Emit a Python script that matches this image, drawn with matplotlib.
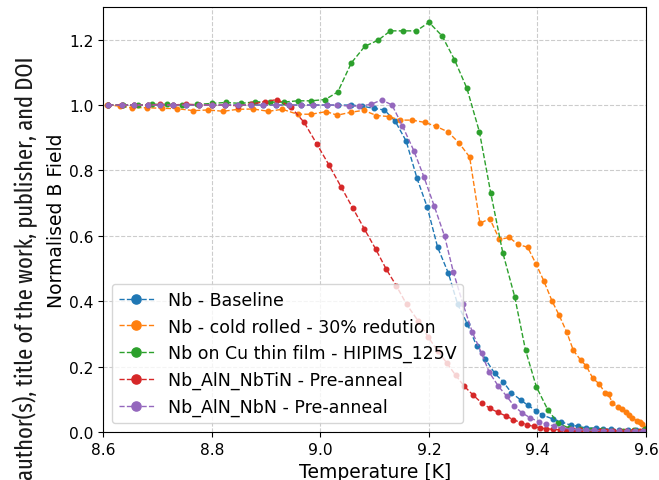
import matplotlib
matplotlib.use('Agg')
import matplotlib.pyplot as plt
from matplotlib import font_manager

# temperature [K] / normalised field for each sample
plateau_T = [8.609, 8.634, 8.656, 8.682, 8.704, 8.728, 8.752, 8.776, 8.800,
             8.824, 8.848, 8.873, 8.895, 8.919, 8.943, 8.965, 8.987, 9.013]

base_T = plateau_T + [9.032, 9.056, 9.076, 9.098, 9.118, 9.138, 9.158, 9.178,
                      9.197, 9.216, 9.236, 9.253, 9.271, 9.288, 9.304, 9.321,
                      9.337, 9.352, 9.369, 9.382, 9.398, 9.409, 9.428, 9.444,
                      9.461, 9.474, 9.490, 9.507, 9.521, 9.536, 9.551, 9.567,
                      9.582, 9.597]
base_B = [1.0] * 18 + [1.0, 1.0, 0.997, 0.99, 0.985, 0.95, 0.89, 0.776, 0.687,
                       0.565, 0.485, 0.39, 0.33, 0.263, 0.223, 0.18, 0.153,
                       0.12, 0.098, 0.082, 0.064, 0.052, 0.04, 0.031, 0.021,
                       0.018, 0.012, 0.012, 0.009, 0.009, 0.006, 0.006, 0.005,
                       0.005]

cold_T = [8.607, 8.63, 8.652, 8.680, 8.708, 8.736, 8.766, 8.793, 8.821, 8.848,
          8.876, 8.904, 8.930, 8.958, 8.983, 9.011, 9.031, 9.056, 9.080, 9.103,
          9.126, 9.147, 9.169, 9.192, 9.213, 9.235, 9.255, 9.275, 9.294, 9.312,
          9.330, 9.348, 9.364, 9.382, 9.397, 9.412, 9.427, 9.440, 9.454, 9.466,
          9.480, 9.490, 9.502, 9.514, 9.525, 9.531, 9.538, 9.548, 9.556, 9.563,
          9.569, 9.575, 9.583, 9.588, 9.592, 9.598]
cold_B = [1.0, 0.997, 0.992, 0.992, 0.99, 0.989, 0.983, 0.985, 0.981, 0.987,
          0.988, 0.981, 0.987, 0.972, 0.972, 0.98, 0.969, 0.978, 0.984, 0.968,
          0.965, 0.954, 0.954, 0.947, 0.935, 0.918, 0.885, 0.841, 0.638, 0.653,
          0.589, 0.595, 0.574, 0.565, 0.515, 0.461, 0.40, 0.357, 0.305, 0.25,
          0.219, 0.202, 0.164, 0.147, 0.118, 0.116, 0.088, 0.076, 0.071, 0.061,
          0.052, 0.044, 0.035, 0.031, 0.024, 0.013]

film_T = [8.609, 8.636, 8.663, 8.69, 8.717, 8.745, 8.772, 8.8, 8.826, 8.853,
          8.88, 8.907, 8.932, 8.958, 8.983, 9.009, 9.032, 9.057, 9.082, 9.106,
          9.129, 9.153, 9.177, 9.200, 9.224, 9.247, 9.270, 9.293, 9.314, 9.336,
          9.358, 9.378, 9.398, 9.419, 9.438, 9.458, 9.478, 9.498, 9.518, 9.538,
          9.558, 9.578, 9.598]
film_B = [1.0, 1.0, 1.0, 1.002, 1.002, 1.0, 1.002, 1.005, 1.008, 1.005,
          1.01, 1.009, 1.009, 1.013, 1.013, 1.017, 1.04, 1.129, 1.18, 1.198,
          1.227, 1.227, 1.227, 1.253, 1.212, 1.139, 1.051, 0.918, 0.73, 0.549,
          0.414, 0.25, 0.138, 0.068, 0.027, 0.012, 0.008, 0.006, 0.005, 0.004,
          0.004, 0.005, 0.01]

nbtin_T = [8.609, 8.634, 8.656, 8.682, 8.704, 8.728, 8.752, 8.776, 8.800,
           8.824, 8.848, 8.873, 8.897, 8.92, 8.945, 8.970, 8.993, 9.016, 9.038,
           9.060, 9.081, 9.102, 9.121, 9.140, 9.159, 9.180, 9.198, 9.216, 9.233,
           9.249, 9.265, 9.282, 9.297, 9.312, 9.327, 9.342, 9.355, 9.369, 9.381,
           9.393, 9.405, 9.416, 9.429, 9.441, 9.453, 9.466, 9.478, 9.49, 9.503,
           9.515, 9.527, 9.54, 9.552, 9.564, 9.576, 9.588, 9.6]
nbtin_B = [1.0, 1.0, 1.0, 1.0, 1.002, 1.0, 1.003, 1.0, 1.0, 1.0, 0.998,
           1.003, 1.01, 1.017, 0.995, 0.947, 0.882, 0.816, 0.75, 0.684, 0.621,
           0.559, 0.499, 0.447, 0.39, 0.34, 0.292, 0.248, 0.211, 0.174, 0.14,
           0.112, 0.089, 0.073, 0.06, 0.049, 0.038, 0.029, 0.022, 0.017, 0.012,
           0.01, 0.008, 0.007, 0.006, 0.005, 0.005, 0.004, 0.004, 0.003, 0.003,
           0.003, 0.003, 0.002, 0.002, 0.002, 0.002]

nbn_T = plateau_T + [9.031, 9.052, 9.072, 9.093, 9.113, 9.132, 9.151, 9.172,
                     9.191, 9.210, 9.229, 9.245, 9.263, 9.280, 9.297, 9.311,
                     9.328, 9.343, 9.357, 9.372, 9.387, 9.403, 9.416, 9.431,
                     9.446, 9.461, 9.475, 9.490, 9.505, 9.520, 9.535, 9.550,
                     9.565, 9.580, 9.595]
nbn_B = [1.0] * 18 + [1.0, 0.997, 0.997, 1.002, 1.016, 1.0, 0.937, 0.861,
                      0.779, 0.69, 0.598, 0.489, 0.39, 0.305, 0.241, 0.183,
                      0.14, 0.11, 0.079, 0.058, 0.043, 0.031, 0.024, 0.018,
                      0.012, 0.009, 0.007, 0.006, 0.005, 0.004, 0.004, 0.003,
                      0.003, 0.003, 0.002]

series = [
    (base_T, base_B, 'Nb - Baseline'),
    (cold_T, cold_B, 'Nb - cold rolled - 30% redution'),
    (film_T, film_B, 'Nb on Cu thin film - HIPIMS_125V'),
    (nbtin_T, nbtin_B, 'Nb_AlN_NbTiN - Pre-anneal'),
    (nbn_T, nbn_B, 'Nb_AlN_NbN - Pre-anneal'),
]

side_note = 'author(s), title of the work, publisher, and DOI'

# narrow font for the side note, whichever one is there
have = {f.name for f in font_manager.fontManager.ttflist}
narrow = [n for n in ['Fira Sans Extra Condensed', 'Sofia Sans Extra Condensed',
                      'Roboto Condensed', 'Liberation Sans Narrow']
          if n in have]
narrow = narrow[:1] + ['DejaVu Sans']

fig = plt.figure(figsize=(6.59, 4.81), dpi=100)
ax = fig.add_axes([0.1568, 0.0998, 0.8235, 0.8836])

for T, B, name in series:
    ax.plot(T, B, '--o', lw=1, ms=3.3, label=name)

ax.set_xlim(8.6, 9.6)
ax.set_ylim(0, 1.3)
ax.set_xticks([8.6, 8.8, 9.0, 9.2, 9.4, 9.6])
ax.set_yticks([0.0, 0.2, 0.4, 0.6, 0.8, 1.0, 1.2])
ax.tick_params(labelsize=11.2)
ax.grid(True, ls='--', color='0.8', lw=0.8)
ax.set_xlabel('Temperature [K]', fontsize=13.5)
ax.set_ylabel('Normalised B Field', fontsize=13.5, labelpad=2)
ax.legend(loc='lower left', fontsize=12.5, markerscale=2)

txt = fig.text(0.038, 0.442, side_note, rotation=90, ha='center', va='center',
               fontsize=18, family=narrow, color='#1a1a1a')
# scale the note so it runs from about y=56 to the bottom edge
fig.canvas.draw()
h = txt.get_window_extent().height
txt.set_fontsize(18 * 425 / h)

fig.savefig('out.png', dpi=100)
